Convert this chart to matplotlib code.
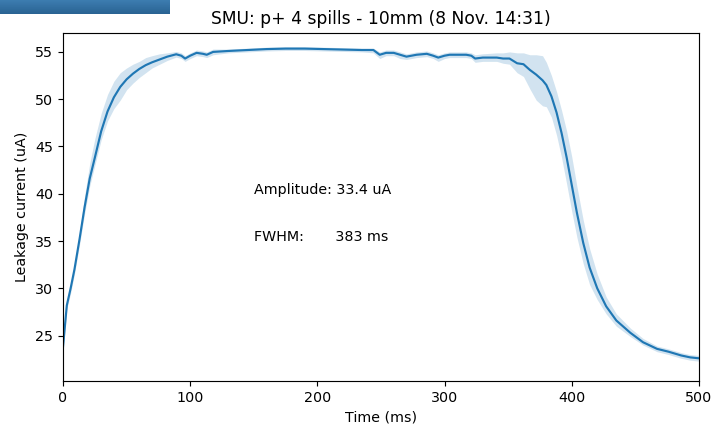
import numpy as np
import matplotlib.pyplot as plt
from matplotlib.colors import LinearSegmentedColormap

time = [0, 3, 6, 9, 13, 17, 21, 25, 30, 35,
        40, 45, 50, 55, 60, 65, 70, 76, 82, 89,
        93, 96, 100, 105, 110, 113, 118, 130, 145, 160,
        175, 190, 205, 220, 235, 244, 249, 254, 260, 265,
        270, 278, 286, 291, 295, 300, 304, 310, 317, 321,
        324, 330, 341, 346, 351, 357, 362, 367, 372, 377,
        380, 384, 388, 392, 396, 400, 404, 409, 414, 420,
        427, 435, 446, 456, 467, 476, 486, 493, 500]

current = [23.8, 28.2, 30.0, 32.0, 35.2, 38.6, 41.6, 43.8, 46.6, 48.7,
           50.2, 51.3, 52.1, 52.7, 53.2, 53.6, 53.9, 54.2, 54.5, 54.75,
           54.6, 54.3, 54.6, 54.9, 54.8, 54.7, 55.0, 55.1, 55.2, 55.3,
           55.35, 55.35, 55.3, 55.25, 55.2, 55.2, 54.7, 54.9, 54.9, 54.7,
           54.5, 54.7, 54.8, 54.6, 54.4, 54.6, 54.7, 54.7, 54.7, 54.6,
           54.3, 54.4, 54.4, 54.3, 54.3, 53.8, 53.7, 53.1, 52.6, 52.0,
           51.5, 50.3, 48.6, 46.4, 43.8, 40.9, 38.0, 34.8, 32.2, 30.0,
           28.1, 26.6, 25.3, 24.3, 23.6, 23.3, 22.9, 22.7, 22.6]

err_lo = [0.4, 0.4, 0.5, 0.5, 0.6, 0.7, 0.8, 0.8, 0.9, 1.0,
          1.2, 1.4, 1.1, 1.0, 0.9, 0.8, 0.6, 0.5, 0.4, 0.3,
          0.3, 0.3, 0.3, 0.3, 0.3, 0.3, 0.3, 0.2, 0.2, 0.2,
          0.2, 0.2, 0.2, 0.2, 0.2, 0.3, 0.4, 0.3, 0.3, 0.4,
          0.3, 0.3, 0.3, 0.3, 0.4, 0.3, 0.3, 0.3, 0.3, 0.3,
          0.4, 0.4, 0.4, 0.5, 0.6, 1.0, 1.3, 2.0, 2.7, 2.7,
          2.3, 2.2, 2.4, 2.6, 2.8, 2.8, 2.6, 2.2, 1.8, 1.2,
          0.8, 0.6, 0.4, 0.3, 0.3, 0.3, 0.3, 0.3, 0.3]

err_hi = [0.4, 0.5, 0.5, 0.6, 0.7, 1.2, 1.6, 2.0, 1.9, 1.8,
          1.7, 1.5, 1.2, 1.0, 0.8, 0.8, 0.7, 0.6, 0.4, 0.3,
          0.3, 0.3, 0.3, 0.3, 0.3, 0.3, 0.3, 0.2, 0.2, 0.2,
          0.2, 0.2, 0.2, 0.2, 0.2, 0.2, 0.3, 0.3, 0.3, 0.3,
          0.3, 0.3, 0.3, 0.3, 0.3, 0.3, 0.3, 0.3, 0.3, 0.3,
          0.4, 0.4, 0.5, 0.6, 0.7, 1.1, 1.2, 1.6, 2.1, 2.6,
          2.4, 2.2, 2.2, 2.4, 2.8, 3.0, 2.8, 2.4, 2.0, 1.5,
          1.0, 0.7, 0.5, 0.4, 0.3, 0.3, 0.3, 0.3, 0.3]

t = np.array(time)
y = np.array(current)
lo = y - np.array(err_lo)
hi = y + np.array(err_hi)

dpi = 103
fig = plt.figure(figsize=(713/dpi, 427/dpi), dpi=dpi)

# blue tab strip in the top-left corner
bar = fig.add_axes([0, 1 - 14/427, 170/713, 14/427])
grad = np.linspace(0, 1, 20).reshape(-1, 1)
bar.imshow(grad, aspect='auto',
           cmap=LinearSegmentedColormap.from_list('tab', ['#3d7db0', '#2a6393']))
bar.axis('off')

ax = fig.add_axes([63/713, 1 - 381/427, 636/713, 348/427])
ax.fill_between(t, lo, hi, color='#1f77b4', alpha=0.2, linewidth=0)
ax.plot(t, y, color='#1f77b4', linewidth=1.5)

ax.text(150, 40, 'Amplitude: 33.4 uA', fontsize=10)
ax.text(150, 35, 'FWHM:       383 ms', fontsize=10)

ax.set_xlim(0, 500)
ax.set_ylim(20.2, 57.0)
ax.set_yticks([25, 30, 35, 40, 45, 50, 55])
ax.set_xlabel('Time (ms)', fontsize=10)
ax.set_ylabel('Leakage current (uA)', fontsize=10)
ax.set_title('SMU: p+ 4 spills - 10mm (8 Nov. 14:31)', fontsize=12)

fig.savefig('out.png', dpi=dpi)
